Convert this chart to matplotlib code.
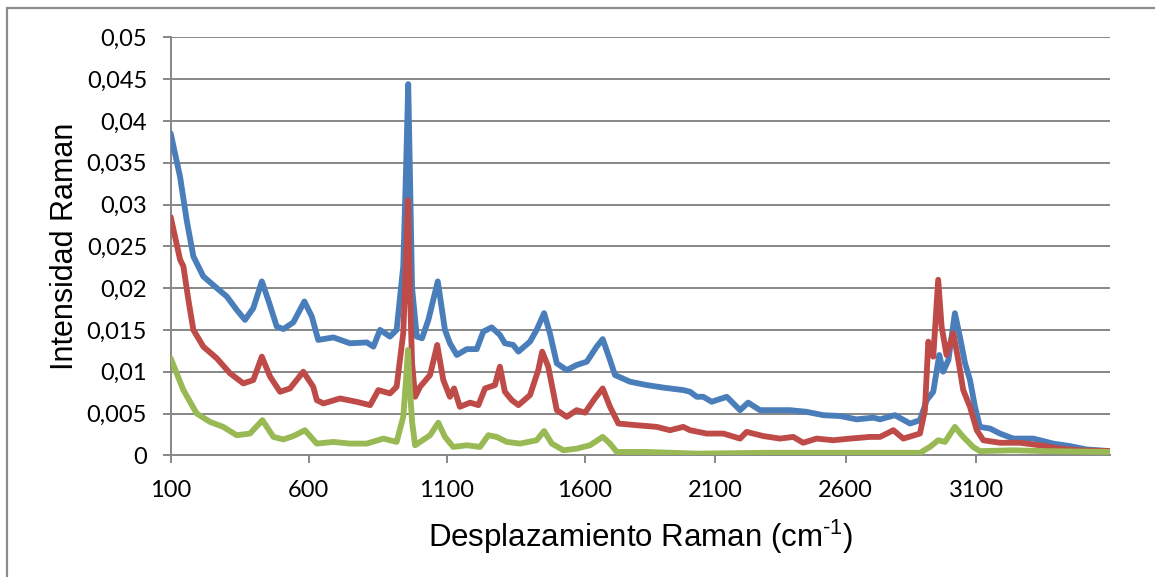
import numpy as np
import matplotlib
matplotlib.use("Agg")
import matplotlib.pyplot as plt
from matplotlib.patches import Rectangle

# ---------------- data ----------------
blue_x = [100, 134, 158, 182, 218, 267, 303, 339, 369, 399, 430, 453, 484, 508, 544, 584,
          611, 634, 689, 749, 810, 834, 858, 894, 918, 942, 952, 960, 966, 974, 991,
          1010, 1033, 1067, 1093, 1111, 1136, 1172, 1208, 1232, 1262, 1292, 1310, 1340,
          1359, 1401, 1425, 1452, 1473, 1498, 1534, 1570, 1607, 1645, 1668, 1696, 1715,
          1773, 1837, 1900, 1977, 2003, 2029, 2054, 2086, 2144, 2195, 2226, 2271, 2335,
          2386, 2450, 2514, 2578, 2642, 2706, 2732, 2789, 2847, 2885, 2911, 2936, 2959,
          2974, 2994, 3019, 3038, 3058, 3077, 3096, 3115, 3154, 3192, 3243, 3320, 3396,
          3460, 3524, 3614]
blue_y = [0.0385, 0.0333, 0.0281, 0.0238, 0.0214, 0.0200, 0.0190, 0.0174, 0.0162, 0.0176,
          0.0208, 0.0186, 0.0154, 0.0151, 0.0159, 0.0184, 0.0166, 0.0138, 0.0141, 0.0134,
          0.0135, 0.0130, 0.0150, 0.0142, 0.0150, 0.0226, 0.0340, 0.0444, 0.0340, 0.0200,
          0.0142, 0.0140, 0.0162, 0.0208, 0.0150, 0.0134, 0.0120, 0.0127, 0.0127, 0.0148,
          0.0153, 0.0144, 0.0134, 0.0132, 0.0124, 0.0136, 0.0150, 0.0170, 0.0146, 0.0110,
          0.0102, 0.0108, 0.0112, 0.0130, 0.0139, 0.0114, 0.0096, 0.0088, 0.0084, 0.0081,
          0.0078, 0.0076, 0.0070, 0.0070, 0.0064, 0.0070, 0.0054, 0.0063, 0.0054, 0.0054,
          0.0054, 0.0052, 0.0048, 0.0047, 0.0043, 0.0045, 0.0043, 0.0048, 0.0038, 0.0042,
          0.0066, 0.0076, 0.0120, 0.0100, 0.0114, 0.0170, 0.0142, 0.0110, 0.0090, 0.0058,
          0.0034, 0.0032, 0.0026, 0.0020, 0.0020, 0.0014, 0.0011, 0.0007, 0.0005]

red_x = [100, 134, 146, 164, 182, 218, 267, 315, 363, 399, 430, 460, 496, 532, 580, 616,
         629, 653, 713, 773, 822, 852, 894, 918, 942, 952, 959, 966, 974, 985, 1003,
         1039, 1065, 1087, 1111, 1126, 1147, 1184, 1214, 1238, 1274, 1292, 1310, 1335,
         1359, 1401, 1431, 1445, 1467, 1498, 1534, 1570, 1600, 1638, 1668, 1696, 1728,
         1798, 1875, 1926, 1977, 2003, 2067, 2131, 2195, 2220, 2284, 2348, 2399, 2437,
         2489, 2552, 2617, 2693, 2732, 2783, 2821, 2885, 2904, 2917, 2936, 2955, 2968,
         2987, 3013, 3032, 3051, 3077, 3103, 3128, 3192, 3269, 3345, 3422, 3499, 3614]
red_y = [0.0285, 0.0234, 0.0226, 0.0186, 0.0150, 0.0130, 0.0116, 0.0098, 0.0086, 0.0090,
         0.0118, 0.0094, 0.0076, 0.0080, 0.0100, 0.0082, 0.0066, 0.0062, 0.0068, 0.0064,
         0.0060, 0.0078, 0.0074, 0.0082, 0.0146, 0.0230, 0.0305, 0.0200, 0.0110, 0.0070,
         0.0082, 0.0096, 0.0132, 0.0090, 0.0070, 0.0080, 0.0058, 0.0063, 0.0060, 0.0080,
         0.0084, 0.0106, 0.0076, 0.0066, 0.0060, 0.0072, 0.0102, 0.0124, 0.0106, 0.0054,
         0.0046, 0.0054, 0.0051, 0.0068, 0.0080, 0.0058, 0.0038, 0.0036, 0.0034, 0.0030,
         0.0034, 0.0030, 0.0026, 0.0026, 0.0020, 0.0028, 0.0023, 0.0020, 0.0022, 0.0015,
         0.0020, 0.0018, 0.0020, 0.0022, 0.0022, 0.0030, 0.0020, 0.0026, 0.0054, 0.0136,
         0.0118, 0.0210, 0.0154, 0.0120, 0.0146, 0.0114, 0.0078, 0.0058, 0.0030, 0.0018,
         0.0015, 0.0015, 0.0012, 0.0008, 0.0006, 0.0005]

green_x = [100, 146, 194, 242, 290, 339, 387, 432, 472, 508, 544, 586, 629, 689, 749, 810,
           870, 918, 942, 952, 959, 966, 974, 985, 1039, 1069, 1093, 1123, 1172, 1220,
           1250, 1280, 1317, 1365, 1425, 1452, 1480, 1522, 1570, 1619, 1668, 1696, 1722,
           1837, 2029, 2300, 2600, 2885, 2923, 2955, 2981, 3019, 3051, 3089, 3115, 3242,
           3371, 3614]
green_y = [0.0116, 0.0078, 0.0050, 0.0040, 0.0034, 0.0024, 0.0026, 0.0042, 0.0022, 0.0019,
           0.0023, 0.0030, 0.0014, 0.0016, 0.0014, 0.0014, 0.0020, 0.0016, 0.0046, 0.0090,
           0.0126, 0.0080, 0.0040, 0.0012, 0.0024, 0.0039, 0.0022, 0.0010, 0.0012, 0.0010,
           0.0024, 0.0022, 0.0016, 0.0014, 0.0018, 0.0029, 0.0014, 0.0006, 0.0008, 0.0012,
           0.0022, 0.0014, 0.0004, 0.0004, 0.0002, 0.0003, 0.0003, 0.0003, 0.0010, 0.0018,
           0.0016, 0.0034, 0.0022, 0.0010, 0.0005, 0.0006, 0.0005, 0.0004]

x_ticks = [100, 600, 1100, 1600, 2100, 2600, 3100]
x_tick_labels = ["100", "600", "1100", "1600", "2100", "2600", "3100"]
y_ticks = [0, 0.005, 0.01, 0.015, 0.02, 0.025, 0.03, 0.035, 0.04, 0.045, 0.05]
y_tick_labels = ["0", "0,005", "0,01", "0,015", "0,02", "0,025", "0,03", "0,035",
                 "0,04", "0,045", "0,05"]

x_label = "Desplazamiento Raman (cm$^{\\text{-1}}$)"
y_label = "Intensidad Raman"

# ---------------- category-like x axis (piecewise linear) ----------------
knots_data = np.array([100.0, 1600.0, 3614.0])
knots_pos = np.array([0.0, 414.3, 414.3 + 2014.0 * 0.2607])


def _pw(v, xs, ys):
    v = np.asarray(v, dtype=float)
    out = np.interp(v, xs, ys)
    lo = v < xs[0]
    hi = v > xs[-1]
    s0 = (ys[1] - ys[0]) / (xs[1] - xs[0])
    s1 = (ys[-1] - ys[-2]) / (xs[-1] - xs[-2])
    out = np.where(lo, ys[0] + (v - xs[0]) * s0, out)
    out = np.where(hi, ys[-1] + (v - xs[-1]) * s1, out)
    return out


def fwd(v):
    return _pw(v, knots_data, knots_pos)


def inv(v):
    return _pw(v, knots_pos, knots_data)


# ---------------- figure ----------------
plt.rcParams["mathtext.fontset"] = "custom"
plt.rcParams["mathtext.rm"] = "Liberation Sans"

W, H = 1155, 577
fig = plt.figure(figsize=(W / 100, H / 100), dpi=100)
fig.patch.set_facecolor("white")

L, R, T, B = 170.7, 1110.0, 37.3, 455.3
ax = fig.add_axes([L / W, 1 - B / H, (R - L) / W, (B - T) / H])

grid_c = "#878787"
ax.set_xscale("function", functions=(fwd, inv))
ax.set_xlim(100, 3614)
ax.set_ylim(0, 0.05)

for yy in y_ticks[1:]:
    ax.axhline(yy, color=grid_c, lw=1.4, zorder=1)

lw = 4.2
ax.plot(blue_x, blue_y, color="#4A7EBB", lw=lw, solid_joinstyle="round",
        solid_capstyle="round", zorder=3)
ax.plot(red_x, red_y, color="#BE4B48", lw=lw, solid_joinstyle="round",
        solid_capstyle="round", zorder=4)
ax.plot(green_x, green_y, color="#98B954", lw=lw, solid_joinstyle="round",
        solid_capstyle="round", zorder=5)

for s in ["top", "right"]:
    ax.spines[s].set_visible(False)
for s in ["left", "bottom"]:
    ax.spines[s].set_color(grid_c)
    ax.spines[s].set_linewidth(1.4)
    ax.spines[s].set_zorder(2)

tick_font = "Lato"
ax.set_xticks(x_ticks)
ax.set_xticklabels(x_tick_labels, fontfamily=tick_font, fontsize=17)
ax.set_yticks(y_ticks)
ax.set_yticklabels(y_tick_labels, fontfamily=tick_font, fontsize=17)
ax.xaxis.set_minor_locator(matplotlib.ticker.NullLocator())
ax.tick_params(axis="both", direction="out", length=6, width=1.4, color=grid_c,
               labelcolor="black")
ax.tick_params(axis="x", pad=12)
ax.tick_params(axis="y", pad=11)

ax.set_xlabel(x_label, fontfamily="Liberation Sans", fontsize=22.5, labelpad=12)
ax.set_ylabel(y_label, fontfamily="Liberation Sans", fontsize=22, labelpad=5)

# outer chart border (Excel chart area)
fig.patches.append(Rectangle((7 / W, -0.05), 1.2, 1 - 8 / H + 0.05,
                             transform=fig.transFigure, fill=False,
                             edgecolor="#8C8C8C", lw=1.6))

fig.savefig("out.png", dpi=100, facecolor="white")
